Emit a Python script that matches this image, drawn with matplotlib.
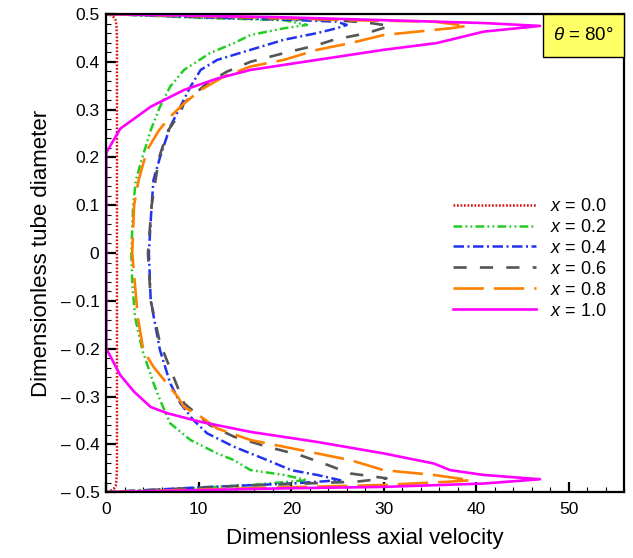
import matplotlib
matplotlib.use("Agg")
import matplotlib.pyplot as plt
from matplotlib.patches import Rectangle
from matplotlib.ticker import MultipleLocator

plt.rcParams["font.family"] = ["Liberation Sans", "DejaVu Sans"]
plt.rcParams["mathtext.fontset"] = "custom"
plt.rcParams["mathtext.rm"] = "Liberation Sans"
plt.rcParams["mathtext.it"] = "Liberation Sans:italic"

# velocity profiles, listed from the upper wall down to the lower wall
y_00 = [0.5, 0.498, 0.493, 0.487, 0.475, 0.45, 0.0, -0.45, -0.475, -0.487, -0.493, -0.498, -0.5]
v_00 = [0, 0.4, 0.8, 1.0, 1.1, 1.15, 1.15, 1.15, 1.1, 1.0, 0.8, 0.4, 0]

y_02 = [0.5, 0.492, 0.487, 0.477, 0.47, 0.456, 0.439, 0.418, 0.383, 0.348, 0.306, 0.257, 0.2,
        0.153, 0.1, 0.0, -0.063, -0.134, -0.203, -0.272, -0.307, -0.356, -0.391, -0.419,
        -0.433, -0.454, -0.464, -0.475, -0.485, -0.493, -0.5]
v_02 = [0, 10, 19.2, 21.7, 19.2, 15.6, 13.8, 11.2, 8.4, 6.9, 5.8, 4.8, 3.9,
        3.2, 2.9, 2.7, 2.8, 3.1, 3.9, 5.1, 5.8, 6.9, 9.1, 12,
        13.8, 15.6, 19.2, 21.7, 15.6, 8, 0]

y_04 = [0.5, 0.493, 0.488, 0.484, 0.477, 0.47, 0.46, 0.446, 0.425, 0.404, 0.383, 0.348, 0.306,
        0.264, 0.2, 0.153, 0.1, 0.0, -0.1, -0.203, -0.272, -0.314, -0.349, -0.377, -0.405,
        -0.433, -0.454, -0.464, -0.475, -0.482, -0.49, -0.5]
v_04 = [0, 10, 19.2, 24.9, 26, 24.9, 22.8, 19.2, 15.6, 12, 10.2, 9.1, 8.0,
        6.9, 5.8, 5.1, 4.9, 4.6, 4.8, 5.8, 6.9, 8, 9.4, 10.9, 13.8,
        17.4, 20, 22.8, 25.3, 20, 10, 0]

y_06 = [0.5, 0.493, 0.487, 0.482, 0.475, 0.46, 0.446, 0.435, 0.418, 0.40, 0.379, 0.355, 0.314,
        0.293, 0.257, 0.2, 0.1, 0.0, -0.1, -0.188, -0.314, -0.36, -0.384, -0.405, -0.423,
        -0.44, -0.461, -0.471, -0.478, -0.488, -0.5]
v_06 = [0, 12, 24.6, 28.2, 30.7, 28.2, 24.6, 22.8, 19.2, 15.6, 13, 10.9, 8.4,
        8.0, 6.7, 5.7, 4.9, 4.5, 4.8, 5.8, 8.4, 11.2, 13.8, 17.4, 21,
        23.5, 26.4, 30.3, 27.1, 13, 0]

y_08 = [0.5, 0.493, 0.487, 0.484, 0.475, 0.47, 0.463, 0.456, 0.439, 0.425, 0.404, 0.39, 0.369,
        0.341, 0.313, 0.285, 0.257, 0.215, 0.153, 0.1, 0.0, -0.134, -0.203, -0.238, -0.3,
        -0.322, -0.342, -0.367, -0.391, -0.405, -0.419, -0.433, -0.454, -0.464, -0.475,
        -0.478, -0.485, -0.492, -0.5]
v_08 = [0, 15.6, 26.4, 35.4, 39, 37.2, 33.6, 30, 26.4, 22.8, 19.2, 15.6, 12.7,
        10.2, 8.4, 6.9, 5.7, 4.4, 3.5, 3.0, 2.8, 3.4, 4.0, 5.1, 7.7,
        8.4, 10.2, 12, 15.6, 19.2, 22.8, 26.4, 30, 35.4, 39.4,
        37.2, 30, 15, 0]

y_10 = [0.5, 0.497, 0.493, 0.487, 0.481, 0.475, 0.463, 0.446, 0.439, 0.425, 0.404, 0.383, 0.365,
        0.341, 0.306, 0.26, 0.21, -0.2, -0.255, -0.29, -0.322, -0.335, -0.353, -0.374, -0.395,
        -0.419, -0.44, -0.454, -0.464, -0.473, -0.482, -0.489, -0.492, -0.5]
v_10 = [0, 8, 19.1, 30, 40.8, 46.9, 40.8, 37.2, 35.7, 30, 22.8, 15.6, 12,
        8.4, 4.8, 1.5, 0, 0, 1.5, 3.0, 4.8, 6.6, 10.2, 15.6, 22.8,
        30, 35.4, 37.2, 40.8, 46.9, 40.8, 30, 19.2, 0]

labels = ["$x$ = 0.0", "$x$ = 0.2", "$x$ = 0.4", "$x$ = 0.6", "$x$ = 0.8", "$x$ = 1.0"]
y_ticks = [0.5, 0.4, 0.3, 0.2, 0.1, 0.0, -0.1, -0.2, -0.3, -0.4, -0.5]
y_ticklabels = ["0.5", "0.4", "0.3", "0.2", "0.1", "0",
                "\u2013 0.1", "\u2013 0.2", "\u2013 0.3", "\u2013 0.4", "\u2013 0.5"]

fig = plt.figure(figsize=(6.33, 5.58), dpi=100)
ax = fig.add_axes([0.168, 0.118, 0.818, 0.857])

ax.plot(v_00, y_00, color="#d81010", lw=1.8, ls=(0, (0.7, 0.7)), label=labels[0])
ax.plot(v_02, y_02, color="#22cc22", lw=1.8, ls=(0, (3.5, 1.3, 0.7, 1.3, 0.7, 1.3)), label=labels[1])
ax.plot(v_04, y_04, color="#2233ee", lw=1.8, ls=(0, (4.2, 1.4, 0.8, 1.4)), label=labels[2])
ax.plot(v_06, y_06, color="#555555", lw=1.9, ls=(0, (5, 5)), label=labels[3])
ax.plot(v_08, y_08, color="#ff8000", lw=1.9, ls=(0, (11.5, 3.8)), label=labels[4])
ax.plot(v_10, y_10, color="#ff00ff", lw=1.9, ls="-", label=labels[5])

ax.set_xlim(0, 56)
ax.set_ylim(-0.5, 0.5)
ax.xaxis.set_major_locator(MultipleLocator(10))
ax.xaxis.set_minor_locator(MultipleLocator(2))
ax.set_yticks(y_ticks, y_ticklabels)
ax.yaxis.set_minor_locator(MultipleLocator(0.02))
ax.tick_params(which="both", direction="in", top=False, right=False, labelsize=12.5)
ax.tick_params(which="major", length=7, width=1.6)
ax.tick_params(which="minor", length=3.5, width=0.8)
ax.tick_params(axis="x", pad=7)
ax.tick_params(axis="y", pad=5)
for s in ax.spines.values():
    s.set_linewidth(1.6)

ax.set_xlabel("Dimensionless axial velocity", fontsize=16, labelpad=8)
ax.set_ylabel("Dimensionless tube diameter", fontsize=16, labelpad=6)

ax.legend(loc="center left", bbox_to_anchor=(0.638, 0.488), frameon=False, fontsize=13,
          handlelength=4.6, handletextpad=0.8, labelspacing=0.22)

# theta label box in the upper right corner
ax.add_patch(Rectangle((0.844, 0.91), 0.156, 0.09, transform=ax.transAxes,
                       facecolor="#ffff66", edgecolor="black", lw=1.0, zorder=5, clip_on=False))
ax.text(0.922, 0.955, r"$\theta$ = 80°", transform=ax.transAxes, ha="center", va="center",
        fontsize=13.5, zorder=6)

plt.savefig("out.png", dpi=100)
